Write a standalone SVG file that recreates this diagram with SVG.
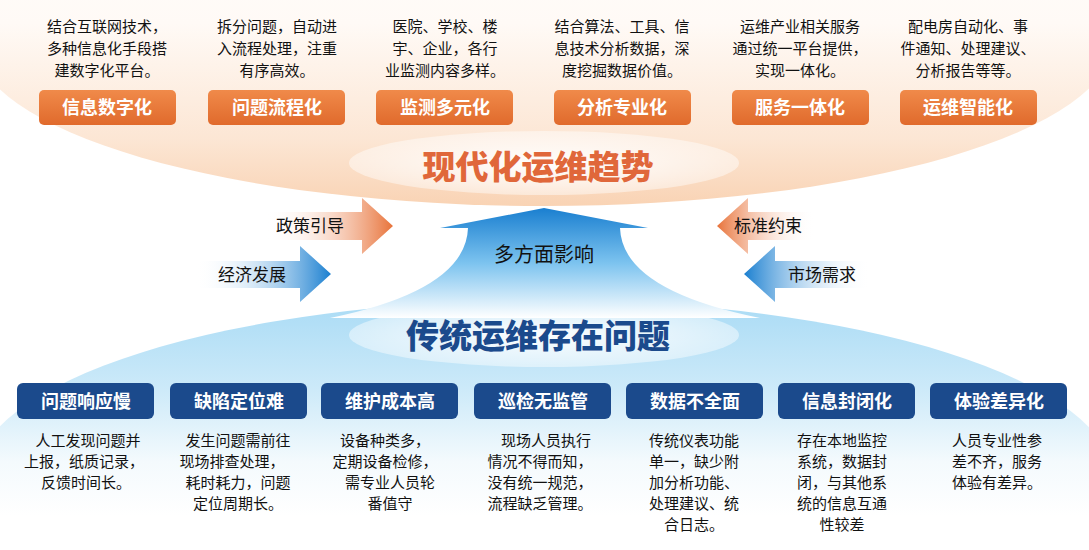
<svg xmlns="http://www.w3.org/2000/svg" width="1089" height="550" viewBox="0 0 1089 550">
<defs>
<linearGradient id="og" x1="0" y1="0" x2="0" y2="1"><stop offset="0" stop-color="#ffffff"/><stop offset="0.45" stop-color="#fffaf6"/><stop offset="0.8" stop-color="#fce6d4"/><stop offset="1" stop-color="#f9d3b4"/></linearGradient>
<linearGradient id="bg" x1="0" y1="0" x2="0" y2="1"><stop offset="0" stop-color="#a9dbf5"/><stop offset="0.25" stop-color="#cdeaf9"/><stop offset="0.45" stop-color="#f4fafd"/><stop offset="0.6" stop-color="#ffffff"/></linearGradient>
<radialGradient id="inner" cx="0.5" cy="0.5" r="0.5"><stop offset="0" stop-color="#ffffff" stop-opacity="0.95"/><stop offset="1" stop-color="#ffffff" stop-opacity="0.45"/></radialGradient>
<linearGradient id="ob" x1="0" y1="0" x2="0" y2="1"><stop offset="0" stop-color="#f08a4a"/><stop offset="1" stop-color="#e06a2c"/></linearGradient>
<linearGradient id="up" x1="0" y1="0" x2="0" y2="1"><stop offset="0" stop-color="#1a7fd0"/><stop offset="0.5" stop-color="#7cc3ef"/><stop offset="1" stop-color="#ffffff"/></linearGradient>
<linearGradient id="oa" x1="0" y1="0" x2="1" y2="0"><stop offset="0" stop-color="#fff" stop-opacity="0"/><stop offset="1" stop-color="#e8733a"/></linearGradient>
<linearGradient id="oaR" x1="1" y1="0" x2="0" y2="0"><stop offset="0" stop-color="#fff" stop-opacity="0"/><stop offset="1" stop-color="#e8733a"/></linearGradient>
<linearGradient id="ba" x1="0" y1="0" x2="1" y2="0"><stop offset="0" stop-color="#fff" stop-opacity="0"/><stop offset="1" stop-color="#1a7fd0"/></linearGradient>
<linearGradient id="baR" x1="1" y1="0" x2="0" y2="0"><stop offset="0" stop-color="#fff" stop-opacity="0"/><stop offset="1" stop-color="#1a7fd0"/></linearGradient>
</defs>
<style>
text{font-family:"Noto Sans CJK SC","Liberation Sans",sans-serif;text-anchor:middle}
.d{font-size:15px;fill:#111}
.bt{font-size:18px;font-weight:bold;fill:#fff}
.al{font-size:17px;fill:#111}
</style>
<rect width="1089" height="550" fill="#fff"/>
<ellipse cx="544" cy="40" rx="570" ry="166" fill="url(#og)"/>
<ellipse cx="544" cy="480" rx="570" ry="180" fill="url(#bg)"/>
<ellipse cx="544" cy="163" rx="195" ry="32" fill="url(#inner)"/>
<ellipse cx="544" cy="335" rx="195" ry="32" fill="url(#inner)"/>
<g id="connectors">
<path d="M544 208 L648 228 L620 228 Q622 290 760 318 L330 318 Q466 290 468 228 L440 228 Z" fill="url(#up)"/>
<path d="M265 212 L362 212 L362 198 L393 226 L362 254 L362 240 L265 240 Z" fill="url(#oa)"/>
<path d="M195 261 L300 261 L300 246 L331 274 L300 302 L300 288 L195 288 Z" fill="url(#ba)"/>
<path d="M815 212 L748 212 L748 198 L717 226 L748 254 L748 240 L815 240 Z" fill="url(#oaR)"/>
<path d="M870 261 L775 261 L775 246 L744 274 L775 302 L775 288 L870 288 Z" fill="url(#baR)"/>
</g>
<text x="310" y="232" class="al">政策引导</text>
<text x="252" y="281" class="al">经济发展</text>
<text x="768" y="232" class="al">标准约束</text>
<text x="822" y="281" class="al">市场需求</text>
<text x="544" y="262" style="font-size:20px;fill:#111">多方面影响</text>
<text x="538" y="179" style="font-size:33px;font-weight:900;fill:#e0673a">现代化运维趋势</text>
<text x="538" y="348" style="font-size:33px;font-weight:900;fill:#1b4a8c">传统运维存在问题</text>
<g id="t1"><text class="d" x="107" y="32">结合互联网技术，</text><text class="d" x="107" y="54">多种信息化手段搭</text><text class="d" x="107" y="76">建数字化平台。</text><rect x="39" y="90" width="137" height="35" rx="5" fill="url(#ob)"/><text class="bt" x="107" y="114">信息数字化</text></g>
<g id="t2"><text class="d" x="277" y="32">拆分问题，自动进</text><text class="d" x="277" y="54">入流程处理，注重</text><text class="d" x="277" y="76">有序高效。</text><rect x="208" y="90" width="137" height="35" rx="5" fill="url(#ob)"/><text class="bt" x="277" y="114">问题流程化</text></g>
<g id="t3"><text class="d" x="445" y="32">医院、学校、楼</text><text class="d" x="445" y="54">宇、企业，各行</text><text class="d" x="445" y="76">业监测内容多样。</text><rect x="376" y="90" width="137" height="35" rx="5" fill="url(#ob)"/><text class="bt" x="445" y="114">监测多元化</text></g>
<g id="t4"><text class="d" x="622" y="32">结合算法、工具、信</text><text class="d" x="622" y="54">息技术分析数据，深</text><text class="d" x="622" y="76">度挖掘数据价值。</text><rect x="554" y="90" width="137" height="35" rx="5" fill="url(#ob)"/><text class="bt" x="622" y="114">分析专业化</text></g>
<g id="t5"><text class="d" x="800" y="32">运维产业相关服务</text><text class="d" x="800" y="54">通过统一平台提供，</text><text class="d" x="800" y="76">实现一体化。</text><rect x="732" y="90" width="137" height="35" rx="5" fill="url(#ob)"/><text class="bt" x="800" y="114">服务一体化</text></g>
<g id="t6"><text class="d" x="968" y="32">配电房自动化、事</text><text class="d" x="968" y="54">件通知、处理建议、</text><text class="d" x="968" y="76">分析报告等等。</text><rect x="900" y="90" width="137" height="35" rx="5" fill="url(#ob)"/><text class="bt" x="968" y="114">运维智能化</text></g>
<g id="b1"><rect x="17" y="383" width="137" height="36" rx="6" fill="#1b4a8c"/><text class="bt" x="86" y="408">问题响应慢</text><text class="d" x="88" y="446">人工发现问题并</text><text class="d" x="84" y="467">上报，纸质记录，</text><text class="d" x="86" y="488">反馈时间长。</text></g>
<g id="b2"><rect x="170" y="383" width="137" height="36" rx="6" fill="#1b4a8c"/><text class="bt" x="239" y="408">缺陷定位难</text><text class="d" x="238" y="446">发生问题需前往</text><text class="d" x="232" y="467">现场排查处理，</text><text class="d" x="238" y="488">耗时耗力，问题</text><text class="d" x="238" y="509">定位周期长。</text></g>
<g id="b3"><rect x="321" y="383" width="137" height="36" rx="6" fill="#1b4a8c"/><text class="bt" x="390" y="408">维护成本高</text><text class="d" x="385" y="446">设备种类多，</text><text class="d" x="385" y="467">定期设备检修，</text><text class="d" x="390" y="488">需专业人员轮</text><text class="d" x="390" y="509">番值守</text></g>
<g id="b4"><rect x="474" y="383" width="137" height="36" rx="6" fill="#1b4a8c"/><text class="bt" x="543" y="408">巡检无监管</text><text class="d" x="546" y="446">现场人员执行</text><text class="d" x="540" y="467">情况不得而知，</text><text class="d" x="540" y="488">没有统一规范，</text><text class="d" x="540" y="509">流程缺乏管理。</text></g>
<g id="b5"><rect x="626" y="383" width="137" height="36" rx="6" fill="#1b4a8c"/><text class="bt" x="695" y="408">数据不全面</text><text class="d" x="694" y="446">传统仪表功能</text><text class="d" x="694" y="467">单一，缺少附</text><text class="d" x="694" y="488">加分析功能、</text><text class="d" x="694" y="509">处理建议、统</text><text class="d" x="694" y="530">合日志。</text></g>
<g id="b6"><rect x="778" y="383" width="137" height="36" rx="6" fill="#1b4a8c"/><text class="bt" x="847" y="408">信息封闭化</text><text class="d" x="842" y="446">存在本地监控</text><text class="d" x="842" y="467">系统，数据封</text><text class="d" x="842" y="488">闭，与其他系</text><text class="d" x="842" y="509">统的信息互通</text><text class="d" x="842" y="530">性较差</text></g>
<g id="b7"><rect x="930" y="383" width="137" height="36" rx="6" fill="#1b4a8c"/><text class="bt" x="999" y="408">体验差异化</text><text class="d" x="997" y="446">人员专业性参</text><text class="d" x="997" y="467">差不齐，服务</text><text class="d" x="997" y="488">体验有差异。</text></g>
</svg>
